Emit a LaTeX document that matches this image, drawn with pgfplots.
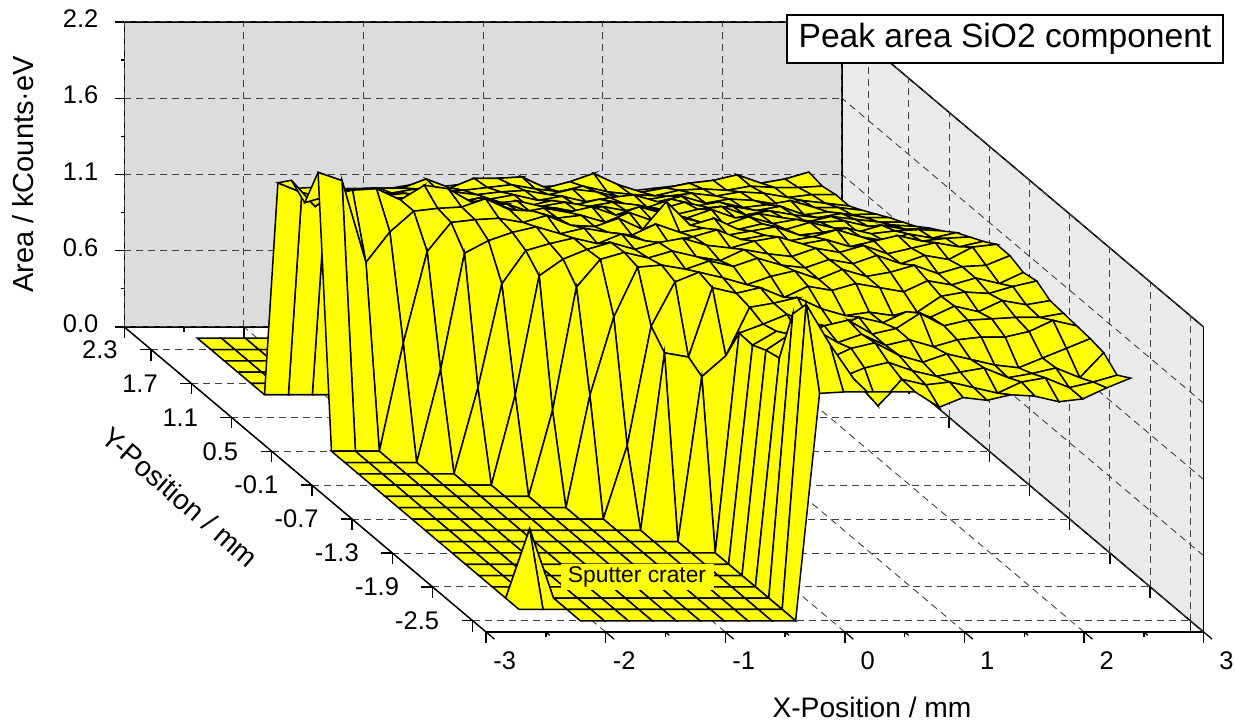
\documentclass[border=0pt]{standalone}
\usepackage{fontspec}
\setmainfont{Liberation Sans}
\usepackage{pgfplots}
\pgfplotsset{compat=1.18}
\definecolor{backwall}{RGB}{220,220,220}
\definecolor{sidewall}{RGB}{234,234,234}
\definecolor{surfyellow}{RGB}{255,255,0}
\pgfplotsset{
  box3d/.style={
    x={(119.6pt,0pt)},y={(-67pt,56.5pt)},z={(0pt,138.64pt)},
    at={(664pt,241.5pt)},anchor=origin,
    xmin=-3,xmax=3,ymin=-2.7,ymax=2.7,zmin=0,zmax=2.2,clip=false,
  },
}
\begin{document}
\begin{tikzpicture}
\useasboundingbox (0pt,0pt) rectangle (1235pt,721pt);
% walls go first, so the grid of the real axis lies on them
\begin{axis}[box3d,hide axis]
\addplot3[fill=backwall,draw=none] coordinates {(-3,2.7,0)(3,2.7,0)(3,2.7,2.2)(-3,2.7,2.2)};
\addplot3[fill=sidewall,draw=none] coordinates {(3,2.7,0)(3,-2.7,0)(3,-2.7,2.2)(3,2.7,2.2)};
\end{axis}
\begin{axis}[box3d,
  axis line style={black,line width=1.5pt},
  tick style={black,line width=1.3pt},
  tick align=outside,
  major tick length=11pt,minor tick length=5pt,
  xtick pos=left,ytick pos=left,ztick pos=left,
  grid=major,
  major grid style={black!75,line width=0.9pt,dash pattern=on 7pt off 5pt},
  xtick={-3,-2,-1,0,1,2,3},xticklabels={\llap{-}3,\llap{-}2,\llap{-}1,0,1,2,3},
  ytick={-2.5,-1.9,-1.3,-0.7,-0.1,0.5,1.1,1.7,2.3},
  yticklabels={-2.5,-1.9,-1.3,-0.7,-0.1,0.5,1.1,1.7,2.3},
  ztick={0,0.55,1.1,1.65,2.2},zticklabels={0.0,0.6,1.1,1.6,2.2},
  minor x tick num=1,
  z tick style={draw=none},
  tick label style={font=\fontsize{25.5}{26}\selectfont},
  xticklabel style={xshift=8.5pt,yshift=-9pt},
  yticklabel style={anchor=east,xshift=-19pt,yshift=0pt},
  zticklabel style={anchor=east,xshift=-14pt,yshift=-4pt},
]
\addplot3[surf,shader=faceted,colormap={yel}{rgb255=(255,255,0) rgb255=(255,255,0)},
  faceted color=black,line width=1.5pt,z buffer=reverse x seq,
  mesh/rows=26,mesh/cols=26,unbounded coords=jump] coordinates {
(-2.5,2.5,0)(-2.3,2.5,0)(-2.1,2.5,0)(-1.9,2.5,0)(-1.7,2.5,1.08)(-1.5,2.5,1.09)(-1.3,2.5,1.08)(-1.1,2.5,1.08)(-0.9,2.5,1.08)(-0.7,2.5,1.11)(-0.5,2.5,1.09)(-0.3,2.5,1.11)(-0.1,2.5,1.12)(0.1,2.5,1.13)(0.3,2.5,1.09)(0.5,2.5,1.10)(0.7,2.5,1.13)(0.9,2.5,1.09)(1.1,2.5,1.06)(1.3,2.5,1.08)(1.5,2.5,1.10)(1.7,2.5,1.11)(1.9,2.5,1.15)(2.1,2.5,1.10)(2.3,2.5,1.12)(2.5,2.5,1.15)

(-2.5,2.3,0)(-2.3,2.3,0)(-2.1,2.3,0)(-1.9,2.3,0)(-1.7,2.3,1.10)(-1.5,2.3,1.12)(-1.3,2.3,1.16)(-1.1,2.3,1.165)(-0.9,2.3,1.165)(-0.7,2.3,1.23)(-0.5,2.3,1.165)(-0.3,2.3,1.235)(-0.1,2.3,1.235)(0.1,2.3,1.245)(0.3,2.3,1.165)(0.5,2.3,1.21)(0.7,2.3,1.27)(0.9,2.3,1.19)(1.1,2.3,1.135)(1.3,2.3,1.165)(1.5,2.3,1.20)(1.7,2.3,1.22)(1.9,2.3,1.26)(2.1,2.3,1.20)(2.3,2.3,1.23)(2.5,2.3,1.28)

(-2.5,2.1,0)(-2.3,2.1,0)(-2.1,2.1,0)(-1.9,2.1,0)(-1.7,2.1,1.16)(-1.5,2.1,1.18)(-1.3,2.1,1.21)(-1.1,2.1,1.21)(-0.9,2.1,1.24)(-0.7,2.1,1.22)(-0.5,2.1,1.23)(-0.3,2.1,1.25)(-0.1,2.1,1.27)(0.1,2.1,1.24)(0.3,2.1,1.22)(0.5,2.1,1.26)(0.7,2.1,1.22)(0.9,2.1,1.20)(1.1,2.1,1.19)(1.3,2.1,1.23)(1.5,2.1,1.24)(1.7,2.1,1.23)(1.9,2.1,1.26)(2.1,2.1,1.25)(2.3,2.1,1.25)(2.5,2.1,1.26)

(-2.5,1.9,0)(-2.3,1.9,0)(-2.1,1.9,0)(-1.9,1.9,0)(-1.7,1.9,1.24)(-1.5,1.9,1.26)(-1.3,1.9,1.27)(-1.1,1.9,1.29)(-0.9,1.9,1.27)(-0.7,1.9,1.30)(-0.5,1.9,1.28)(-0.3,1.9,1.30)(-0.1,1.9,1.31)(0.1,1.9,1.28)(0.3,1.9,1.32)(0.5,1.9,1.30)(0.7,1.9,1.26)(0.9,1.9,1.24)(1.1,1.9,1.27)(1.3,1.9,1.29)(1.5,1.9,1.27)(1.7,1.9,1.30)(1.9,1.9,1.29)(2.1,1.9,1.26)(2.3,1.9,1.28)(2.5,1.9,1.28)

(-2.5,1.7,0)(-2.3,1.7,0)(-2.1,1.7,0)(-1.9,1.7,0)(-1.7,1.7,1.30)(-1.5,1.7,1.31)(-1.3,1.7,1.34)(-1.1,1.7,1.33)(-0.9,1.7,1.36)(-0.7,1.7,1.32)(-0.5,1.7,1.33)(-0.3,1.7,1.36)(-0.1,1.7,1.32)(0.1,1.7,1.35)(0.3,1.7,1.31)(0.5,1.7,1.34)(0.7,1.7,1.36)(0.9,1.7,1.31)(1.1,1.7,1.35)(1.3,1.7,1.30)(1.5,1.7,1.33)(1.7,1.7,1.32)(1.9,1.7,1.29)(2.1,1.7,1.32)(2.3,1.7,1.30)(2.5,1.7,1.28)

(-2.5,1.5,0)(-2.3,1.5,0)(-2.1,1.5,0)(-1.9,1.5,0)(-1.7,1.5,1.38)(-1.5,1.5,1.40)(-1.3,1.5,1.38)(-1.1,1.5,1.42)(-0.9,1.5,1.38)(-0.7,1.5,1.42)(-0.5,1.5,1.38)(-0.3,1.5,1.36)(-0.1,1.5,1.40)(0.1,1.5,1.37)(0.3,1.5,1.41)(0.5,1.5,1.38)(0.7,1.5,1.35)(0.9,1.5,1.41)(1.1,1.5,1.36)(1.3,1.5,1.39)(1.5,1.5,1.35)(1.7,1.5,1.37)(1.9,1.5,1.40)(2.1,1.5,1.35)(2.3,1.5,1.35)(2.5,1.5,1.33)

(-2.5,1.3,1.61)(-2.3,1.3,1.54)(-2.1,1.3,1.50)(-1.9,1.3,1.56)(-1.7,1.3,1.48)(-1.5,1.3,1.50)(-1.3,1.3,1.50)(-1.1,1.3,1.46)(-0.9,1.3,1.48)(-0.7,1.3,1.46)(-0.5,1.3,1.48)(-0.3,1.3,1.44)(-0.1,1.3,1.47)(0.1,1.3,1.44)(0.3,1.3,1.47)(0.5,1.3,1.45)(0.7,1.3,1.42)(0.9,1.3,1.47)(1.1,1.3,1.43)(1.3,1.3,1.44)(1.5,1.3,1.41)(1.7,1.3,1.44)(1.9,1.3,1.38)(2.1,1.3,1.40)(2.3,1.3,1.38)(2.5,1.3,1.385)

(-2.5,1.1,1.71)(-2.3,1.1,1.52)(-2.1,1.1,1.64)(-1.9,1.1,1.62)(-1.7,1.1,1.58)(-1.5,1.1,1.54)(-1.3,1.1,1.52)(-1.1,1.1,1.56)(-0.9,1.1,1.50)(-0.7,1.1,1.54)(-0.5,1.1,1.48)(-0.3,1.1,1.51)(-0.1,1.1,1.48)(0.1,1.1,1.52)(0.3,1.1,1.49)(0.5,1.1,1.51)(0.7,1.1,1.46)(0.9,1.1,1.50)(1.1,1.1,1.52)(1.3,1.1,1.46)(1.5,1.1,1.49)(1.7,1.1,1.46)(1.9,1.1,1.44)(2.1,1.1,1.47)(2.3,1.1,1.44)(2.5,1.1,1.44)

(-2.5,0.9,1.63)(-2.3,0.9,1.68)(-2.1,0.9,1.72)(-1.9,0.9,1.73)(-1.7,0.9,1.65)(-1.5,0.9,1.755)(-1.3,0.9,1.73)(-1.1,0.9,1.63)(-0.9,0.9,1.62)(-0.7,0.9,1.56)(-0.5,0.9,1.59)(-0.3,0.9,1.56)(-0.1,0.9,1.60)(0.1,0.9,1.54)(0.3,0.9,1.60)(0.5,0.9,1.55)(0.7,0.9,1.52)(0.9,0.9,1.58)(1.1,0.9,1.52)(1.3,0.9,1.55)(1.5,0.9,1.52)(1.7,0.9,1.49)(1.9,0.9,1.53)(2.1,0.9,1.51)(2.3,0.9,1.49)(2.5,0.9,1.49)

(-2.5,0.7,1.93)(-2.3,0.7,1.87)(-2.1,0.7,1.28)(-1.9,0.7,1.50)(-1.7,0.7,1.65)(-1.5,0.7,1.67)(-1.3,0.7,1.68)(-1.1,0.7,1.74)(-0.9,0.7,1.66)(-0.7,0.7,1.65)(-0.5,0.7,1.60)(-0.3,0.7,1.62)(-0.1,0.7,1.57)(0.1,0.7,1.64)(0.3,0.7,1.58)(0.5,0.7,1.61)(0.7,0.7,1.57)(0.9,0.7,1.55)(1.1,0.7,1.61)(1.3,0.7,1.56)(1.5,0.7,1.59)(1.7,0.7,1.57)(1.9,0.7,1.58)(2.1,0.7,1.54)(2.3,0.7,1.55)(2.5,0.7,1.54)

(-2.5,0.5,0)(-2.3,0.5,0)(-2.1,0.5,0)(-1.9,0.5,0.78)(-1.7,0.5,1.44)(-1.5,0.5,1.65)(-1.3,0.5,1.67)(-1.1,0.5,1.68)(-0.9,0.5,1.65)(-0.7,0.5,1.70)(-0.5,0.5,1.63)(-0.3,0.5,1.62)(-0.1,0.5,1.68)(0.1,0.5,1.60)(0.3,0.5,1.80)(0.5,0.5,1.63)(0.7,0.5,1.68)(0.9,0.5,1.60)(1.1,0.5,1.64)(1.3,0.5,1.60)(1.5,0.5,1.65)(1.7,0.5,1.61)(1.9,0.5,1.58)(2.1,0.5,1.63)(2.3,0.5,1.60)(2.5,0.5,1.61)

(-2.5,0.3,0)(-2.3,0.3,0)(-2.1,0.3,0)(-1.9,0.3,0)(-1.7,0.3,0.67)(-1.5,0.3,1.51)(-1.3,0.3,1.60)(-1.1,0.3,1.66)(-0.9,0.3,1.70)(-0.7,0.3,1.65)(-0.5,0.3,1.69)(-0.3,0.3,1.66)(-0.1,0.3,1.64)(0.1,0.3,1.72)(0.3,0.3,1.66)(0.5,0.3,1.69)(0.7,0.3,1.64)(0.9,0.3,1.67)(1.1,0.3,1.70)(1.3,0.3,1.64)(1.5,0.3,1.66)(1.7,0.3,1.69)(1.9,0.3,1.65)(2.1,0.3,1.67)(2.3,0.3,1.68)(2.5,0.3,1.67)

(-2.5,0.1,0)(-2.3,0.1,0)(-2.1,0.1,0)(-1.9,0.1,0)(-1.7,0.1,0)(-1.5,0.1,0.62)(-1.3,0.1,1.37)(-1.1,0.1,1.61)(-0.9,0.1,1.66)(-0.7,0.1,1.70)(-0.5,0.1,1.66)(-0.3,0.1,1.73)(-0.1,0.1,1.68)(0.1,0.1,1.66)(0.3,0.1,1.71)(0.5,0.1,1.76)(0.7,0.1,1.69)(0.9,0.1,1.72)(1.1,0.1,1.68)(1.3,0.1,1.71)(1.5,0.1,1.76)(1.7,0.1,1.71)(1.9,0.1,1.68)(2.1,0.1,1.73)(2.3,0.1,1.70)(2.5,0.1,1.74)

(-2.5,-0.1,0)(-2.3,-0.1,0)(-2.1,-0.1,0)(-1.9,-0.1,0)(-1.7,-0.1,0)(-1.5,-0.1,0)(-1.3,-0.1,0.65)(-1.1,-0.1,1.51)(-0.9,-0.1,1.63)(-0.7,-0.1,1.70)(-0.5,-0.1,1.75)(-0.3,-0.1,1.70)(-0.1,-0.1,1.75)(0.1,-0.1,1.78)(0.3,-0.1,1.73)(0.5,-0.1,1.71)(0.7,-0.1,1.76)(0.9,-0.1,1.79)(1.1,-0.1,1.74)(1.3,-0.1,1.77)(1.5,-0.1,1.72)(1.7,-0.1,1.76)(1.9,-0.1,1.80)(2.1,-0.1,1.76)(2.3,-0.1,1.78)(2.5,-0.1,1.79)

(-2.5,-0.3,0)(-2.3,-0.3,0)(-2.1,-0.3,0)(-1.9,-0.3,0)(-1.7,-0.3,0)(-1.5,-0.3,0)(-1.3,-0.3,0)(-1.1,-0.3,0.62)(-0.9,-0.3,1.51)(-0.7,-0.3,1.71)(-0.5,-0.3,1.76)(-0.3,-0.3,1.72)(-0.1,-0.3,1.77)(0.1,-0.3,1.73)(0.3,-0.3,1.70)(0.5,-0.3,1.78)(0.7,-0.3,1.75)(0.9,-0.3,1.73)(1.1,-0.3,1.79)(1.3,-0.3,1.76)(1.5,-0.3,1.81)(1.7,-0.3,1.75)(1.9,-0.3,1.79)(2.1,-0.3,1.83)(2.3,-0.3,1.80)(2.5,-0.3,1.84)

(-2.5,-0.5,0)(-2.3,-0.5,0)(-2.1,-0.5,0)(-1.9,-0.5,0)(-1.7,-0.5,0)(-1.5,-0.5,0)(-1.3,-0.5,0)(-1.1,-0.5,0)(-0.9,-0.5,0.81)(-0.7,-0.5,1.375)(-0.5,-0.5,1.735)(-0.3,-0.5,1.75)(-0.1,-0.5,1.72)(0.1,-0.5,1.78)(0.3,-0.5,1.74)(0.5,-0.5,1.80)(0.7,-0.5,1.75)(0.9,-0.5,1.73)(1.1,-0.5,1.79)(1.3,-0.5,1.76)(1.5,-0.5,1.82)(1.7,-0.5,1.76)(1.9,-0.5,1.82)(2.1,-0.5,1.79)(2.3,-0.5,1.88)(2.5,-0.5,1.90)

(-2.5,-0.7,0)(-2.3,-0.7,0)(-2.1,-0.7,0)(-1.9,-0.7,0)(-1.7,-0.7,0)(-1.5,-0.7,0)(-1.3,-0.7,0)(-1.1,-0.7,0)(-0.9,-0.7,0)(-0.7,-0.7,0.53)(-0.5,-0.7,1.39)(-0.3,-0.7,1.71)(-0.1,-0.7,1.78)(0.1,-0.7,1.74)(0.3,-0.7,1.69)(0.5,-0.7,1.75)(0.7,-0.7,1.79)(0.9,-0.7,1.73)(1.1,-0.7,1.80)(1.3,-0.7,1.75)(1.5,-0.7,1.78)(1.7,-0.7,1.83)(1.9,-0.7,1.77)(2.1,-0.7,1.82)(2.3,-0.7,1.83)(2.5,-0.7,1.90)

(-2.5,-0.9,0)(-2.3,-0.9,0)(-2.1,-0.9,0)(-1.9,-0.9,0)(-1.7,-0.9,0)(-1.5,-0.9,0)(-1.3,-0.9,0)(-1.1,-0.9,0)(-0.9,-0.9,0)(-0.7,-0.9,0)(-0.5,-0.9,1.28)(-0.3,-0.9,1.25)(-0.1,-0.9,1.75)(0.1,-0.9,1.71)(0.3,-0.9,1.75)(0.5,-0.9,1.68)(0.7,-0.9,1.76)(0.9,-0.9,1.73)(1.1,-0.9,1.78)(1.3,-0.9,1.75)(1.5,-0.9,1.72)(1.7,-0.9,1.80)(1.9,-0.9,1.77)(2.1,-0.9,1.82)(2.3,-0.9,1.78)(2.5,-0.9,1.86)

(-2.5,-1.1,0)(-2.3,-1.1,0)(-2.1,-1.1,0)(-1.9,-1.1,0)(-1.7,-1.1,0)(-1.5,-1.1,0)(-1.3,-1.1,0)(-1.1,-1.1,0)(-0.9,-1.1,0)(-0.7,-1.1,0)(-0.5,-1.1,0)(-0.3,-1.1,1.19)(-0.1,-1.1,1.34)(0.1,-1.1,1.69)(0.3,-1.1,1.72)(0.5,-1.1,1.76)(0.7,-1.1,1.68)(0.9,-1.1,1.63)(1.1,-1.1,1.655)(1.3,-1.1,1.63)(1.5,-1.1,1.655)(1.7,-1.1,1.77)(1.9,-1.1,1.80)(2.1,-1.1,1.79)(2.3,-1.1,1.84)(2.5,-1.1,1.88)

(-2.5,-1.3,0)(-2.3,-1.3,0)(-2.1,-1.3,0)(-1.9,-1.3,0)(-1.7,-1.3,0)(-1.5,-1.3,0)(-1.3,-1.3,0)(-1.1,-1.3,0)(-0.9,-1.3,0)(-0.7,-1.3,0)(-0.5,-1.3,0)(-0.3,-1.3,0)(-0.1,-1.3,1.585)(0.1,-1.3,1.65)(0.3,-1.3,1.72)(0.5,-1.3,1.66)(0.7,-1.3,1.62)(0.9,-1.3,1.70)(1.1,-1.3,1.66)(1.3,-1.3,1.74)(1.5,-1.3,1.70)(1.7,-1.3,1.78)(1.9,-1.3,1.74)(2.1,-1.3,1.82)(2.3,-1.3,1.79)(2.5,-1.3,1.82)

(-2.5,-1.5,0)(-2.3,-1.5,0)(-2.1,-1.5,0)(-1.9,-1.5,0)(-1.7,-1.5,0)(-1.5,-1.5,0)(-1.3,-1.5,0)(-1.1,-1.5,0)(-0.9,-1.5,0)(-0.7,-1.5,0)(-0.5,-1.5,0)(-0.3,-1.5,0)(-0.1,-1.5,1.58)(0.1,-1.5,1.68)(0.3,-1.5,1.64)(0.5,-1.5,1.72)(0.7,-1.5,1.76)(0.9,-1.5,1.66)(1.1,-1.5,1.70)(1.3,-1.5,1.81)(1.5,-1.5,1.72)(1.7,-1.5,1.76)(1.9,-1.5,1.77)(2.1,-1.5,1.78)(2.3,-1.5,1.78)(2.5,-1.5,1.81)

(-2.5,-1.7,0)(-2.3,-1.7,0)(-2.1,-1.7,0)(-1.9,-1.7,0)(-1.7,-1.7,0)(-1.5,-1.7,0)(-1.3,-1.7,0)(-1.1,-1.7,0)(-0.9,-1.7,0)(-0.7,-1.7,0)(-0.5,-1.7,0)(-0.3,-1.7,0)(-0.1,-1.7,1.625)(0.1,-1.7,1.74)(0.3,-1.7,1.78)(0.5,-1.7,1.68)(0.7,-1.7,1.74)(0.9,-1.7,1.66)(1.1,-1.7,1.70)(1.3,-1.7,1.65)(1.5,-1.7,1.70)(1.7,-1.7,1.72)(1.9,-1.7,1.72)(2.1,-1.7,1.76)(2.3,-1.7,1.84)(2.5,-1.7,1.80)

(-2.5,-1.9,0)(-2.3,-1.9,0)(-2.1,-1.9,0)(-1.9,-1.9,0)(-1.7,-1.9,0)(-1.5,-1.9,0)(-1.3,-1.9,0)(-1.1,-1.9,0)(-0.9,-1.9,0)(-0.7,-1.9,0)(-0.5,-1.9,0)(-0.3,-1.9,0)(-0.1,-1.9,1.65)(0.1,-1.9,1.70)(0.3,-1.9,1.64)(0.5,-1.9,1.72)(0.7,-1.9,1.76)(0.9,-1.9,1.67)(1.1,-1.9,1.62)(1.3,-1.9,1.68)(1.5,-1.9,1.64)(1.7,-1.9,1.60)(1.9,-1.9,1.58)(2.1,-1.9,1.65)(2.3,-1.9,1.72)(2.5,-1.9,1.79)

(-2.5,-2.1,0)(-2.3,-2.1,0.5)(-2.1,-2.1,0)(-1.9,-2.1,0)(-1.7,-2.1,0)(-1.5,-2.1,0)(-1.3,-2.1,0)(-1.1,-2.1,0)(-0.9,-2.1,0)(-0.7,-2.1,0)(-0.5,-2.1,0)(-0.3,-2.1,0)(-0.1,-2.1,2.05)(0.1,-2.1,1.70)(0.3,-2.1,1.59)(0.5,-2.1,1.66)(0.7,-2.1,1.70)(0.9,-2.1,1.64)(1.1,-2.1,1.60)(1.3,-2.1,1.63)(1.5,-2.1,1.66)(1.7,-2.1,1.59)(1.9,-2.1,1.62)(2.1,-2.1,1.66)(2.3,-2.1,1.59)(2.5,-2.1,1.77)

(-2.5,-2.3,0)(-2.3,-2.3,0)(-2.1,-2.3,0)(-1.9,-2.3,0)(-1.7,-2.3,0)(-1.5,-2.3,0)(-1.3,-2.3,0)(-1.1,-2.3,0)(-0.9,-2.3,0)(-0.7,-2.3,0)(-0.5,-2.3,0)(-0.3,-2.3,0)(-0.1,-2.3,2.2)(0.1,-2.3,1.91)(0.3,-2.3,1.66)(0.5,-2.3,1.47)(0.7,-2.3,1.66)(0.9,-2.3,1.62)(1.1,-2.3,1.64)(1.3,-2.3,1.60)(1.5,-2.3,1.56)(1.7,-2.3,1.64)(1.9,-2.3,1.67)(2.1,-2.3,1.60)(2.3,-2.3,1.64)(2.5,-2.3,1.69)

(-2.5,-2.5,nan)(-2.3,-2.5,nan)(-2.1,-2.5,0)(-1.9,-2.5,0)(-1.7,-2.5,0)(-1.5,-2.5,0)(-1.3,-2.5,0)(-1.1,-2.5,0)(-0.9,-2.5,0)(-0.7,-2.5,0)(-0.5,-2.5,0)(-0.3,-2.5,0)(-0.1,-2.5,1.64)(0.1,-2.5,1.65)(0.3,-2.5,1.65)(0.5,-2.5,1.65)(0.7,-2.5,1.65)(0.9,-2.5,1.54)(1.1,-2.5,1.61)(1.3,-2.5,1.59)(1.5,-2.5,1.63)(1.7,-2.5,1.62)(1.9,-2.5,1.58)(2.1,-2.5,1.60)(2.3,-2.5,1.68)(2.5,-2.5,1.75)
};
% z ticks stick out level with the page, not along the floor
\pgfplotsinvokeforeach{0,0.55,1.1,1.65,2.2}{\draw[black,line width=1.3pt] (axis cs:-3.075,2.7,#1)--(axis cs:-3,2.7,#1);}
\pgfplotsinvokeforeach{0.275,0.825,1.375,1.925}{\draw[black,line width=1.3pt] (axis cs:-3.03,2.7,#1)--(axis cs:-3,2.7,#1);}
\end{axis}
\node[fill=surfyellow,inner sep=1pt,minimum width=153pt,minimum height=25pt,font=\fontsize{22.8}{23}\selectfont] at (637pt,144pt) {Sputter crater};
\node[fill=white,draw=black,line width=1.2pt,minimum width=436pt,minimum height=48pt,font=\fontsize{33.6}{34}\selectfont] at (1005pt,682pt) {Peak area SiO2 component};
\node[rotate=90,font=\fontsize{29}{30}\selectfont] at (23pt,546.5pt) {Area / kCounts·eV};
\node[font=\fontsize{28.2}{29}\selectfont] at (872pt,14pt) {X-Position / mm};
\node[rotate=-41,font=\fontsize{28.2}{29}\selectfont] at (180pt,224pt) {Y-Position / mm};
\end{tikzpicture}
\end{document}
